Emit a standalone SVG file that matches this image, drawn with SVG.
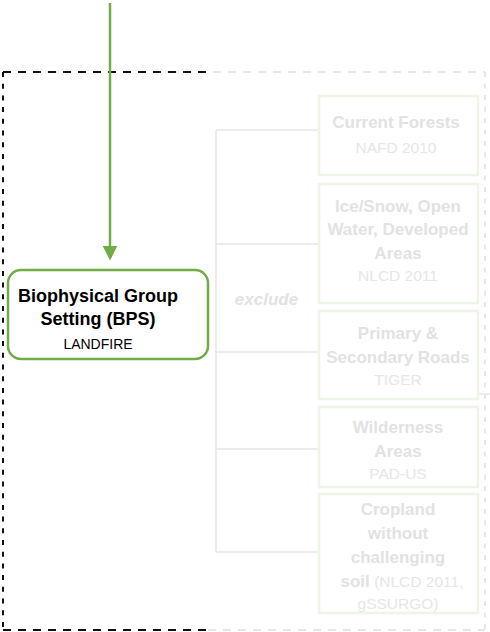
<svg xmlns="http://www.w3.org/2000/svg" width="490" height="632" viewBox="0 0 490 632">
<style>
text{font-family:"Liberation Sans",Arial,sans-serif;text-anchor:middle}
.h{font-weight:bold;font-size:17px;fill:#e2e2e2}
.s{font-size:15.5px;fill:#e6e6e6}
.box{fill:#fff;stroke:#edf4e8;stroke-width:2.5}
.br{stroke:#e6e6e6;stroke-width:1.5;fill:none}
.bk{stroke:#111;stroke-width:2;fill:none}
.gr{stroke:#e6e6e6;stroke-width:2;fill:none}
</style>
<defs>
<marker id="ah" markerWidth="6" markerHeight="6" refX="5" refY="3" orient="auto" markerUnits="strokeWidth">
<path d="M0,0 L6,3 L0,6 Z" fill="#70AD47"/>
</marker>
</defs>
<g id="frame">
<line class="gr" x1="213" y1="72" x2="485" y2="72" stroke-dasharray="8 7"/>
<line class="gr" x1="485" y1="72" x2="485" y2="630" stroke-dasharray="5 6.5"/>
<line class="gr" x1="208" y1="630" x2="485" y2="630" stroke-dasharray="8 7"/>
<line class="bk" x1="3" y1="72" x2="213" y2="72" stroke-dasharray="8 7"/>
<line class="bk" x1="3" y1="72" x2="3" y2="630" stroke-dasharray="5 6.7"/>
<line class="bk" x1="3" y1="630" x2="208" y2="630" stroke-dasharray="8 7"/>
</g>
<g id="connectors">
<line x1="110" y1="3" x2="110" y2="258" stroke="#70AD47" stroke-width="2.5" marker-end="url(#ah)"/>
<line class="br" x1="216" y1="130" x2="216" y2="552"/>
<line class="br" x1="216" y1="130" x2="319" y2="130"/>
<line class="br" x1="216" y1="244" x2="319" y2="244"/>
<line class="br" x1="216" y1="352" x2="319" y2="352"/>
<line class="br" x1="216" y1="449" x2="319" y2="449"/>
<line class="br" x1="216" y1="552" x2="319" y2="552"/>
<line x1="478" y1="394" x2="490" y2="394" stroke="#cfdcf0" stroke-width="1"/>
<text x="266.5" y="305" class="h" font-style="italic">exclude</text>
</g>
<g id="bps">
<rect x="8" y="270" width="200" height="89" rx="13" fill="#fff" stroke="#70AD47" stroke-width="2.5"/>
<text x="98" y="302" font-weight="bold" font-size="18" fill="#000">Biophysical Group</text>
<text x="98" y="325" font-weight="bold" font-size="18" fill="#000">Setting (BPS)</text>
<text x="98" y="349" font-size="14" fill="#000">LANDFIRE</text>
</g>
<g id="forests">
<rect class="box" x="319" y="96" width="159" height="79"/>
<text x="396" y="128" class="h">Current Forests</text>
<text x="396" y="153" class="s">NAFD 2010</text>
</g>
<g id="icesnow">
<rect class="box" x="319" y="184" width="159" height="119"/>
<text x="398" y="211.5" class="h">Ice/Snow, Open</text>
<text x="398" y="235" class="h">Water, Developed</text>
<text x="398" y="259" class="h">Areas</text>
<text x="398" y="281" class="s">NLCD 2011</text>
</g>
<g id="roads">
<rect class="box" x="319" y="311" width="159" height="88"/>
<text x="398" y="339" class="h">Primary &amp;</text>
<text x="398" y="362.5" class="h">Secondary Roads</text>
<text x="398" y="385" class="s">TIGER</text>
</g>
<g id="wilderness">
<rect class="box" x="319" y="407" width="159" height="80"/>
<text x="398" y="432.5" class="h">Wilderness</text>
<text x="398" y="456.5" class="h">Areas</text>
<text x="398" y="479" class="s">PAD-US</text>
</g>
<g id="cropland">
<rect class="box" x="319" y="494" width="159" height="119"/>
<text x="398" y="515" class="h">Cropland</text>
<text x="398" y="539" class="h">without</text>
<text x="398" y="563" class="h">challenging</text>
<text x="402" y="586.5" class="s"><tspan font-weight="bold" font-size="17" fill="#e2e2e2">soil</tspan> (NLCD 2011,</text>
<text x="398" y="609" class="s">gSSURGO)</text>
</g>
</svg>
